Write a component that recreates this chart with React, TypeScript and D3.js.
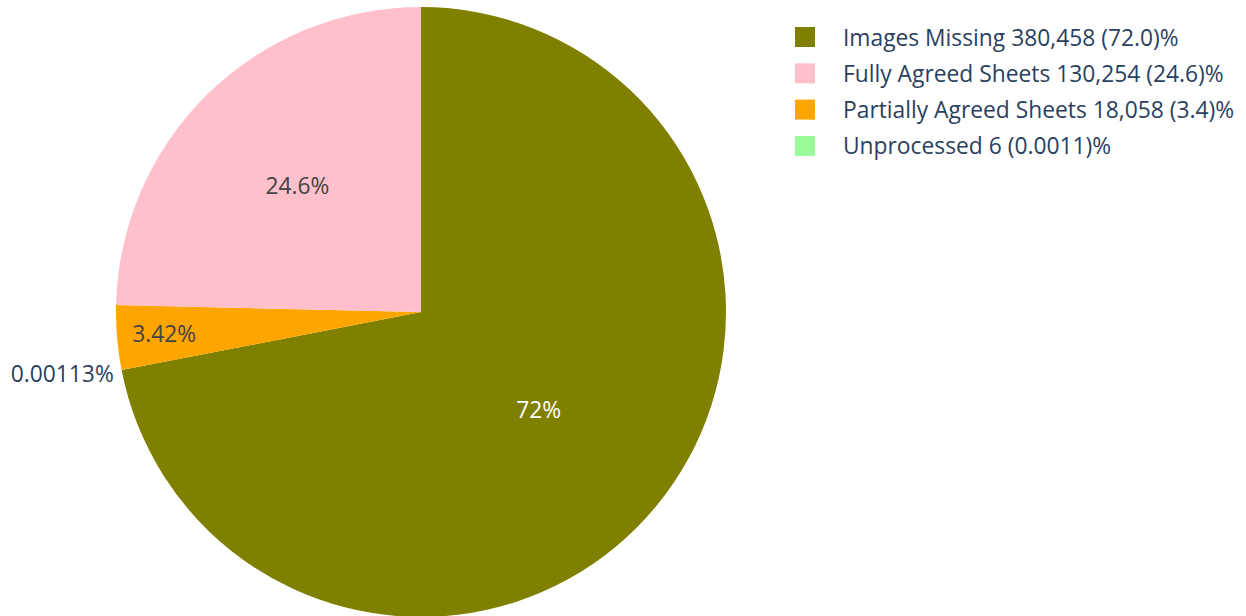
import React from "react";
import * as d3 from "d3";

const categories = ["Images Missing", "Unprocessed", "Partially Agreed Sheets", "Fully Agreed Sheets"];
const values = [380458, 6, 18058, 130254];
const sliceLabels = ["72%", "0.00113%", "3.42%", "24.6%"];
const colors = ["#808000", "#98FB98", "#FFA500", "#FFC0CB"];
const legendOrder = ["Images Missing", "Fully Agreed Sheets", "Partially Agreed Sheets", "Unprocessed"];
const legendTexts = [
  "Images Missing 380,458 (72.0)%",
  "Fully Agreed Sheets 130,254 (24.6)%",
  "Partially Agreed Sheets 18,058 (3.4)%",
  "Unprocessed 6 (0.0011)%",
];

const W = 1246;
const H = 616;
const cx = 421;
const cy = 312;
const R = 305;
const FONT = "'Open Sans', sans-serif";
const FS = 22.8;

// label placement style per slice: inside with radius fraction, or outside
const labelPlacement: Record<string, { mode: string; frac: number; color: string }> = {
  "Images Missing": { mode: "inside", frac: 0.5, color: "#ffffff" },
  "Unprocessed": { mode: "outside", frac: 1, color: "#2a3f5f" },
  "Partially Agreed Sheets": { mode: "inside", frac: 0.845, color: "#444444" },
  "Fully Agreed Sheets": { mode: "inside", frac: 0.58, color: "#444444" },
};

export default function App() {
  const data = categories.map((c, i) => ({ cat: c, value: values[i], label: sliceLabels[i], color: colors[i] }));
  const pie = d3.pie<any>().sort(null).value((d) => d.value);
  const arcs = pie(data);
  const arcGen = d3.arc<any>().innerRadius(0).outerRadius(R);

  return (
    <div style={{ position: "absolute", left: 0, top: 0, width: W, height: H }}>
      <svg width={W} height={H} style={{ display: "block", background: "#fff" }}>
        <g transform={`translate(${cx},${cy})`}>
          {arcs.map((a, i) => (
            <path key={i} d={arcGen(a) as string} fill={a.data.color} stroke="none" />
          ))}
          {arcs.map((a, i) => {
            const p = labelPlacement[a.data.cat];
            const mid = (a.startAngle + a.endAngle) / 2;
            if (p.mode === "inside") {
              const r = R * p.frac;
              return (
                <text
                  key={"l" + i}
                  x={r * Math.sin(mid)}
                  y={-r * Math.cos(mid)}
                  textAnchor="middle"
                  dominantBaseline="central"
                  fontFamily={FONT}
                  fontSize={FS}
                  fill={p.color}
                >
                  {a.data.label}
                </text>
              );
            }
            const r = R + 8;
            return (
              <text
                key={"l" + i}
                x={r * Math.sin(mid)}
                y={-r * Math.cos(mid) + 2}
                textAnchor="end"
                dominantBaseline="central"
                fontFamily={FONT}
                fontSize={FS}
                fill={p.color}
              >
                {a.data.label}
              </text>
            );
          })}
        </g>
        <g>
          {legendOrder.map((c, i) => {
            const idx = categories.indexOf(c);
            const y = 37 + i * 36.3;
            return (
              <g key={"lg" + i}>
                <rect x={795} y={y - 10} width={20} height={20} fill={colors[idx]} />
                <text x={843} y={y} dominantBaseline="central" fontFamily={FONT} fontSize={FS} fill="#2a3f5f">
                  {legendTexts[i]}
                </text>
              </g>
            );
          })}
        </g>
      </svg>
    </div>
  );
}
